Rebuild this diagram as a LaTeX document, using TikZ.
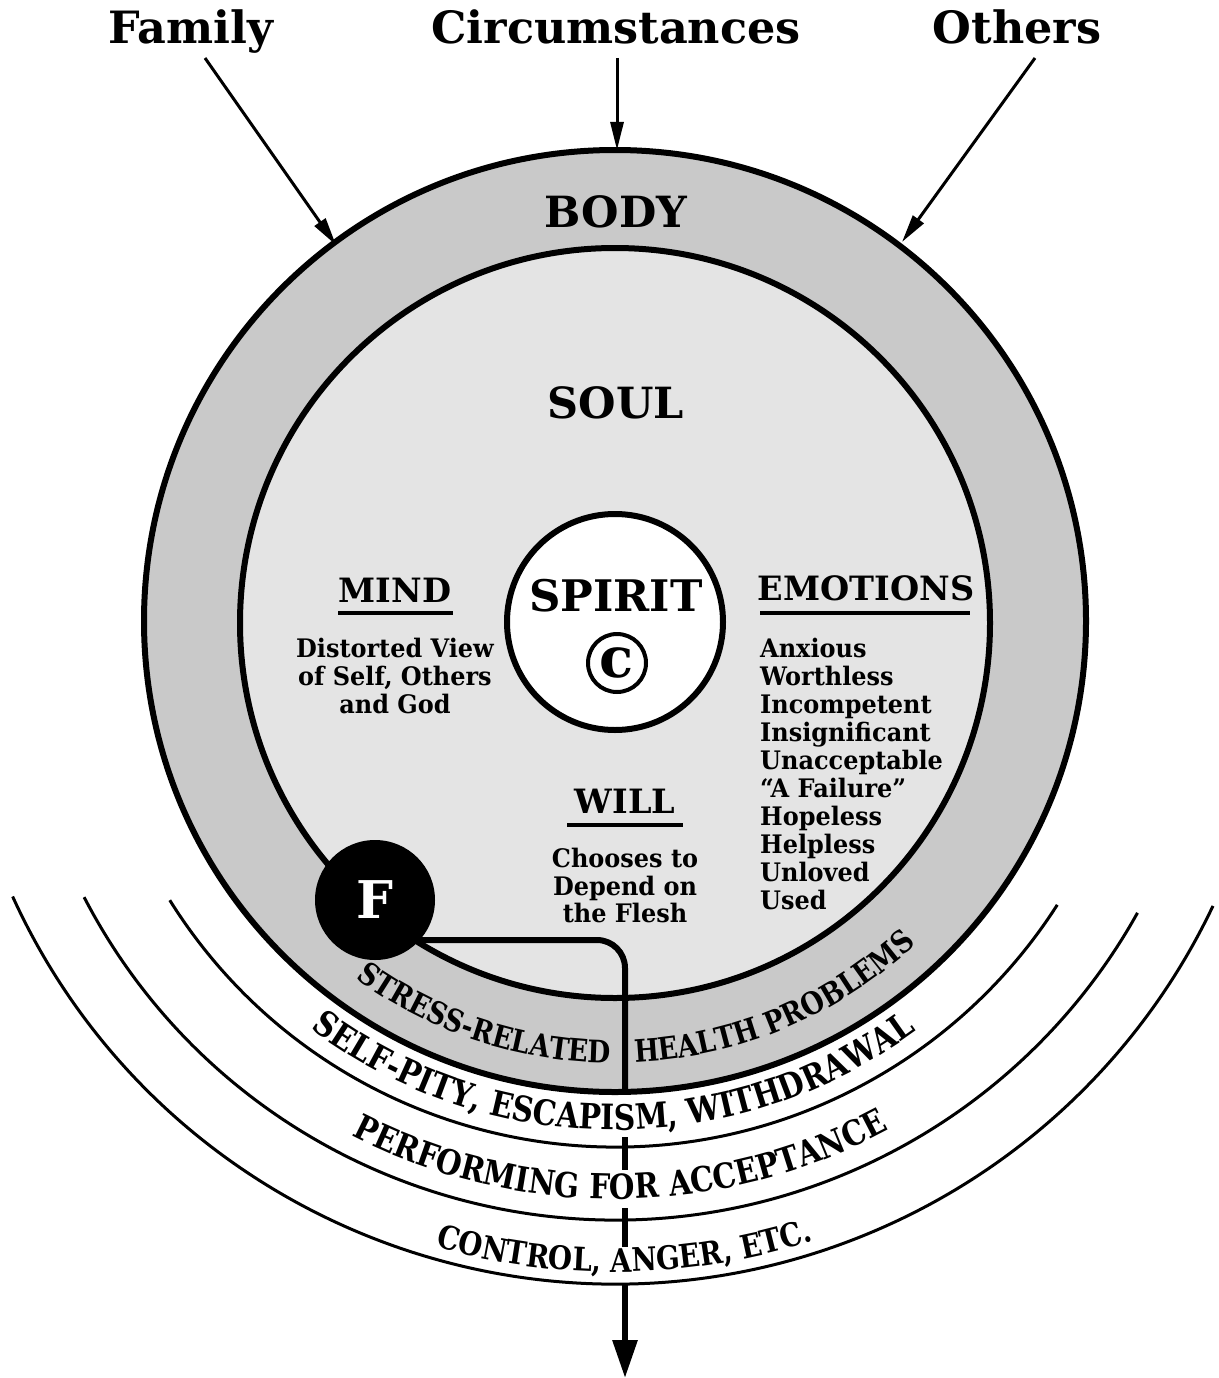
\documentclass[tikz,border=0pt]{standalone}
\usepackage{fontspec}
\setmainfont{DejaVu Serif}
\newfontfamily\arcfont{DejaVu Serif}[FakeStretch=0.85]
\newfontfamily\smallfont{DejaVu Serif}[FakeStretch=0.94]
\usetikzlibrary{arrows.meta,decorations.text,calc}
\definecolor{bodygray}{gray}{0.79}
\definecolor{soulgray}{gray}{0.895}
\newcommand{\setfs}[1]{\fontsize{#1}{#1}\selectfont}
\begin{document}
\begin{tikzpicture}[x=1pt,y=-1pt,
  ring/.style={circle, draw, line width=6pt, inner sep=0pt},
  toplbl/.style={font=\setfs{44.5}\bfseries, inner sep=0pt, anchor=base},
  biglbl/.style={font=\setfs{43}\bfseries, inner sep=0pt, anchor=base},
  headlbl/.style={font=\setfs{33.5}\bfseries, inner sep=0pt, anchor=base},
  smalllbl/.style={font=\smallfont\setfs{25.5}\bfseries, inner sep=0pt, anchor=base},
  inarrow/.style={line width=3pt, -{Triangle[length=28pt,width=13pt]}},
  uline/.style={line width=4pt},
  band/.style={line width=3pt},
  flow/.style={line width=6pt},
  arctext/.style={decorate, decoration={text along path, text align=#1}},
]
\useasboundingbox (0,0) rectangle (1218,1378);
\fill[white] (0,0) rectangle (1218,1378);
\coordinate (ctr) at (615,622);

% rings
\node[ring, fill=bodygray, minimum size=942pt] (body) at (615,621) {};
\node[ring, fill=soulgray, minimum size=750pt] (soul) at (615,623) {};
\node[ring, fill=white, minimum size=216pt] (spirit) at (615,622) {};

% outer bands
\draw[band] ($(ctr)+(148:525)$) arc[start angle=148, end angle=32.6, radius=525];
\draw[band] ($(ctr)+(152.6:598)$) arc[start angle=152.6, end angle=29.1, radius=598];
\draw[band] ($(ctr)+(155.5:662)$) arc[start angle=155.5, end angle=25.4, radius=662];

% curved texts
\path[arctext=right, decoration={text={|\arcfont\bfseries\setfs{31}|STRESS-RELATED}}]
  ($(ctr)+(170:441)$) arc[start angle=170, end angle=90.6, radius=441];
\path[arctext=left, decoration={text={|\arcfont\bfseries\setfs{31}|HEALTH PROBLEMS}}]
  ($(ctr)+(87.4:441)$) arc[start angle=87.4, end angle=10, radius=441];
\path[arctext=center, decoration={text={|\arcfont\bfseries\setfs{35}|SELF-PITY, ESCAPISM, WITHDRAWAL}}]
  ($(ctr)+(170.2:508)$) arc[start angle=170.2, end angle=10.2, radius=508];
\path[arctext=center, decoration={text={|\arcfont\bfseries\setfs{34.5}|PERFORMING FOR ACCEPTANCE}}]
  ($(ctr)+(169.4:577)$) arc[start angle=169.4, end angle=9.4, radius=577];
\path[arctext=center, decoration={text={|\arcfont\bfseries\setfs{32.5}|CONTROL, ANGER, ETC.}}]
  ($(ctr)+(169.1:650)$) arc[start angle=169.1, end angle=9.1, radius=650];

% top labels and arrows
\node[toplbl] (fam) at (191,44) {Family};
\node[toplbl] (circ) at (616,44) {Circumstances};
\node[toplbl] (oth) at (1017,44) {Others};
\coordinate (famS) at (205,58);
\coordinate (famT) at (336,245);
\coordinate (circS) at (617,58);
\coordinate (circT) at (617,150);
\coordinate (othS) at (1035,58);
\coordinate (othT) at (902,242);
\draw[inarrow] (famS) -- (famT);
\draw[inarrow] (circS) -- (circT);
\draw[inarrow] (othS) -- (othT);

% inner labels
\node[biglbl] (bodyl) at (616,227) {BODY};
\node[biglbl] (soull) at (616,418) {SOUL};
\node[biglbl, font=\setfs{43.5}\bfseries] (spiritl) at (616,611) {SPIRIT};
\node[circle, draw, line width=4pt, minimum size=58pt, inner sep=0pt] (copyr) at (617,663) {};
\node[font=\setfs{56}\bfseries, inner sep=0pt] (copyc) at (copyr.center) {c};

\node[headlbl] (mind) at (395,602) {MIND};
\draw[uline] (338,613) -- (453,613);
\node[smalllbl] (m1) at (395,657) {Distorted View};
\node[smalllbl] (m2) at (395,685) {of Self, Others};
\node[smalllbl] (m3) at (395,713) {and God};

\node[headlbl] (emo) at (866,600) {EMOTIONS};
\draw[uline] (760,613) -- (970,613);
\foreach \w [count=\i from 0] in {Anxious,Worthless,Incompetent,Insignificant,Unacceptable,{“A Failure”},Hopeless,Helpless,Unloved,Used}
  \node[smalllbl, anchor=base west] (e\i) at (760,{657+28.1*\i}) {\w};

\node[headlbl] (will) at (625,813) {WILL};
\draw[uline] (567,825) -- (683,825);
\node[smalllbl] (w1) at (625,867) {Chooses to};
\node[smalllbl] (w2) at (625,895) {Depend on};
\node[smalllbl] (w3) at (625,922) {the Flesh};

% flow line from F
\coordinate (fout) at (375,940);
\coordinate (v0) at (625,1090);
\coordinate (v1a) at (625,1137);
\coordinate (v1b) at (625,1170);
\coordinate (v2a) at (625,1208);
\coordinate (v2b) at (625,1247);
\coordinate (v3a) at (625,1285);
\coordinate (v3b) at (625,1378);
\draw[flow, rounded corners=28pt] (fout) -| (v0);
\draw[flow] (v1a) -- (v1b);
\draw[flow] (v2a) -- (v2b);
\draw[flow, -{Triangle[length=38pt,width=24pt]}] (v3a) -- (v3b);

\node[circle, fill=black, minimum size=120pt, inner sep=0pt, text=white, font=\setfs{52}\bfseries] (F) at (375,900) {F};
\end{tikzpicture}
\end{document}
